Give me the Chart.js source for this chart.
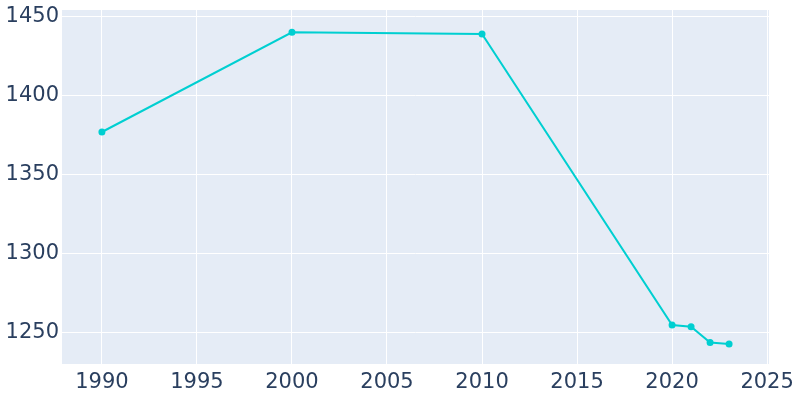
<!DOCTYPE html>
<html>
<head>
<meta charset="utf-8">
<script src="https://cdn.jsdelivr.net/npm/chart.js@4"></script>
<style>
  html, body { margin: 0; padding: 0; background: #fff; }
  #wrap { width: 800px; height: 400px; }
</style>
</head>
<body>
<div id="wrap"><canvas id="popChart" width="800" height="400"></canvas></div>
<script>
// population by year
const years = [1990, 2000, 2010, 2020, 2021, 2022, 2023];
const population = [1377, 1440, 1439, 1255, 1254, 1244, 1243];
const xTicks = [1990, 1995, 2000, 2005, 2010, 2015, 2020, 2025];
const yTicks = [1250, 1300, 1350, 1400, 1450];

// fundo da área do gráfico
const plotBg = {
    id: 'plotBg',
    beforeDraw(chart) {
        const { ctx, chartArea: a } = chart;
        ctx.save();
        ctx.fillStyle = '#e5ecf6';
        ctx.fillRect(a.left, a.top, a.right - a.left, a.bottom - a.top);
        ctx.restore();
    }
};

const tickFont = { family: "'DejaVu Sans', sans-serif", size: 21 };

new Chart(document.getElementById('popChart'), {
    type: 'line',
    data: {
        datasets: [{
            data: years.map((y, i) => ({ x: y, y: population[i] })),
            borderColor: '#00cfd1',
            backgroundColor: '#00cfd1',
            borderWidth: 2,
            pointRadius: 2.5,
            pointHoverRadius: 3,
            tension: 0
        }]
    },
    options: {
        responsive: false,
        animation: false,
        layout: { padding: { top: 10, right: 31, left: 0, bottom: 0 } },
        plugins: { legend: { display: false }, tooltip: { enabled: false } },
        scales: {
            x: {
                type: 'linear',
                min: 1987.9,
                max: 2025.1,
                afterBuildTicks: axis => { axis.ticks = xTicks.map(v => ({ value: v })); },
                afterFit: axis => { axis.height = 36; axis.paddingLeft = 0; axis.paddingRight = 0; },
                grid: { color: '#ffffff', lineWidth: 1, drawTicks: false },
                border: { display: false },
                ticks: { font: tickFont, color: '#2a3f5f', padding: 6, maxRotation: 0, callback: v => String(v) }
            },
            y: {
                min: 1230.4,
                max: 1454.1,
                afterBuildTicks: axis => { axis.ticks = yTicks.map(v => ({ value: v })); },
                afterFit: axis => { axis.width = 62; axis.paddingTop = 0; axis.paddingBottom = 0; },
                grid: { color: '#ffffff', lineWidth: 1, drawTicks: false },
                border: { display: false },
                ticks: { font: tickFont, color: '#2a3f5f', padding: 3, callback: v => String(v) }
            }
        }
    },
    plugins: [plotBg]
});
</script>
</body>
</html>
